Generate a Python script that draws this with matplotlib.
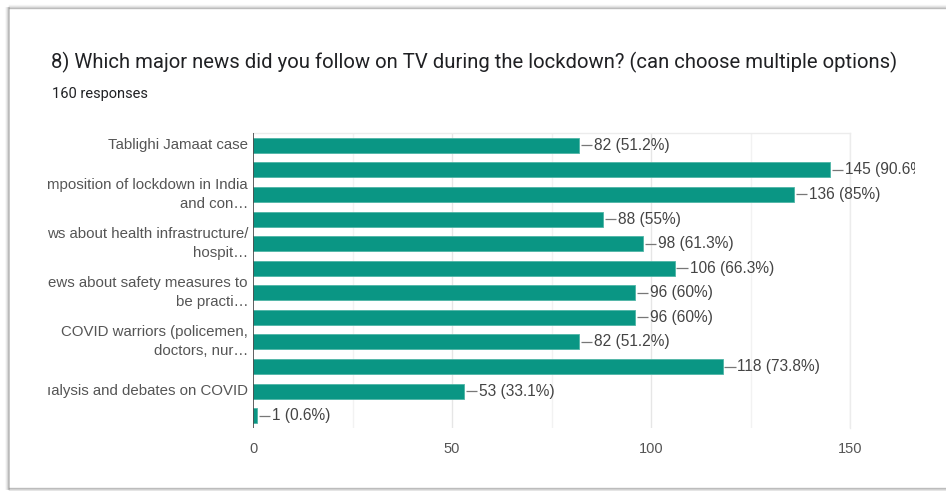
import matplotlib
matplotlib.use("Agg")
import matplotlib.pyplot as plt
from matplotlib.transforms import Bbox, TransformedBbox
from matplotlib.lines import Line2D

# Survey answers, top to bottom (only every other answer carries a visible label)
categories = [
    "Tablighi Jamaat case",
    "",
    "mposition of lockdown in India\nand con…",
    "",
    "ws about health infrastructure/\nhospit…",
    "",
    "ews about safety measures to\nbe practi…",
    "",
    "COVID warriors (policemen,\ndoctors, nur…",
    "",
    "ıalysis and debates on COVID",
    "",
]
counts = [82, 145, 136, 88, 98, 106, 96, 96, 82, 118, 53, 1]
percents = ["51.2%", "90.6%", "85%", "55%", "61.3%", "66.3%",
            "60%", "60%", "51.2%", "73.8%", "33.1%", "0.6%"]
x_ticks = [0, 50, 100, 150]

title = "8) Which major news did you follow on TV during the lockdown? (can choose multiple options)"
subtitle = "160 responses"

W, H = 946, 491
fig = plt.figure(figsize=(W / 100, H / 100), dpi=100)
fig.patch.set_facecolor("white")

def fx(px):
    return px / W

def fy(py):
    return 1 - py / H

# card frame with a soft shadow on the left, top and bottom
for i, a in enumerate([0.55, 0.3, 0.15, 0.07]):
    c = (0.55, 0.55, 0.55, a)
    fig.add_artist(Line2D([fx(9 - i), fx(9 - i)], [fy(8), fy(489)], color=c, lw=1.2,
                          transform=fig.transFigure))
    fig.add_artist(Line2D([fx(9), 1], [fy(8 - i), fy(8 - i)], color=c, lw=1.0,
                          transform=fig.transFigure))
    fig.add_artist(Line2D([fx(9), 1], [fy(488 + i), fy(488 + i)], color=c, lw=1.0,
                          transform=fig.transFigure))

fig.text(fx(51), fy(62), title, fontsize=14.6, family="Roboto", color="#202124",
         va="center", ha="left")
fig.text(fx(52), fy(94), subtitle, fontsize=10.5, family="Roboto", color="#202124",
         va="center", ha="left")

ax = fig.add_axes([fx(253), fy(428), fx(850) - fx(253), fy(133) - fy(428)])
ypos = list(range(len(counts)))
ax.barh(ypos, counts, height=0.61, color="#0a9684", edgecolor="#4fb5a6",
        linewidth=0.6, zorder=3)
ax.set_xlim(0, 150)
ax.set_ylim(len(counts) - 0.5, -0.5)

# grid: major every 50, lighter minor every 25
for v in range(25, 151, 25):
    col = "#e6e6e6" if v % 50 == 0 else "#f2f2f2"
    ax.axvline(v, color=col, lw=1.0, zorder=1)
ax.axvline(0, color="#444444", lw=1.2, zorder=4)

for s in ["left", "bottom"]:
    ax.spines[s].set_visible(False)
for s in ["top", "right"]:
    ax.spines[s].set_color("#ececec")
    ax.spines[s].set_linewidth(1.0)

ax.set_xticks(x_ticks)
ax.set_xticklabels([str(t) for t in x_ticks], fontsize=10.5, family="Liberation Sans",
                   color="#555555")
ax.tick_params(axis="x", length=0, pad=10)
ax.set_yticks([])

right_clip = TransformedBbox(Bbox([[0, 0], [fx(915), 1]]), fig.transFigure)

# value annotations with a short leader line
for y, c, p in zip(ypos, counts, percents):
    ax.plot([c + 0.4, c + 3.3], [y, y], color="#777777", lw=0.9, zorder=4,
            solid_capstyle="butt")
    t = ax.text(c + 3.7, y, f"{c} ({p})", fontsize=11.2, family="Liberation Sans",
                color="#444444", va="center", ha="left", clip_on=True)
    t.set_clip_box(right_clip)

# category labels to the left of the axis
for y, lab in zip(ypos, categories):
    if not lab:
        continue
    xd, yd = ax.transData.transform((0, y))
    xf, yf = fig.transFigure.inverted().transform((xd - 5, yd))
    fig.text(xf, yf, lab, fontsize=10.8, family="Liberation Sans", color="#555555",
             ha="right", va="center", ma="right", linespacing=1.45)

fig.savefig("out.png", dpi=100)
